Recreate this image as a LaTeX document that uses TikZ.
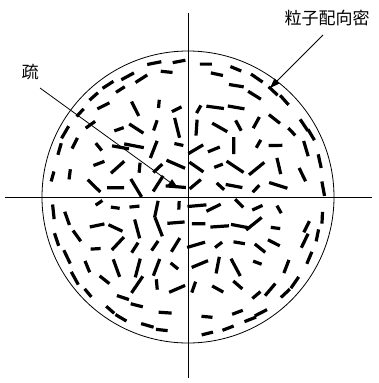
\documentclass[tikz,border=0pt]{standalone}
\usepackage{fontspec}
\newfontfamily\cjk{Noto Sans CJK JP}
\usetikzlibrary{arrows.meta, positioning, calc}

\begin{document}
\begin{tikzpicture}[
    x=1pt, y=-1pt,
    axis/.style={line width=0.8pt},
    arr/.style={-{Triangle[length=10pt, width=7pt]}, line width=0.8pt},
    particle/.style={line width=3.2pt},
    every node/.style={font=\cjk\fontsize{17}{17}\selectfont, inner sep=1pt},
]
    \useasboundingbox (0,0) rectangle (379,383);

    \coordinate (O) at (188,197);

    % axes and outline
    \draw[axis] (5,197) -- (372,197);
    \draw[axis] (188,13) -- (188,378);
    \draw[axis] (O) circle[radius=146];

    % particles along the rim (aligned)
    \pgfmathsetseed{23}
    \foreach \q in {0,90,180,270}{
        \foreach \i in {0,...,8}{
            \pgfmathsetmacro\ang{\q+6+\i*9.4+2.5*rand}
            \pgfmathsetmacro\rad{137+2*rand}
            \pgfmathsetmacro\len{5+2.5*rnd}
            \draw[particle, shift={(188,197)}, rotate=\ang] (\rad,0) ++(90+8*rand:\len) -- ++(-90+8*rand:2*\len);
        }
        \foreach \i in {0,...,6}{
            \pgfmathsetmacro\ang{\q+9+\i*11.5+3*rand}
            \pgfmathsetmacro\rad{123+4*rand}
            \pgfmathsetmacro\len{5+3*rnd}
            \draw[particle, shift={(188,197)}, rotate=\ang] (\rad,0) ++(90+18*rand:\len) -- ++(-90+18*rand:2*\len);
        }
    }

    % particles inside (random on a loose grid)
    \foreach \gx in {-91,-71,...,91}{
        \foreach \gy in {-91,-71,...,91}{
            \pgfmathtruncatemacro\inside{((\gx/10)^2+(\gy/10)^2<110)}
            \ifnum\inside=1
                \pgfmathsetmacro\px{188+\gx+3.5*rand}
                \pgfmathsetmacro\py{197+\gy+3.5*rand}
                \pgfmathsetmacro\dir{180*rnd}
                \pgfmathsetmacro\len{4+6.5*rnd}
                \draw[particle] (\px,\py) ++(\dir:\len) -- ++(\dir+180:2*\len);
            \fi
        }
    }

    % labels
    \node (sparse) at (30,72) {疏};
    \node (dense) at (327,18) {粒子配向密};
    \coordinate (tipA) at (178,188);
    \coordinate (tipB) at (270,88);

    \draw[arr] ([shift={(10,16)}]sparse.center) -- (tipA);
    \draw[arr] ([shift={(-4,17)}]dense.center) -- (tipB);

\end{tikzpicture}
\end{document}
